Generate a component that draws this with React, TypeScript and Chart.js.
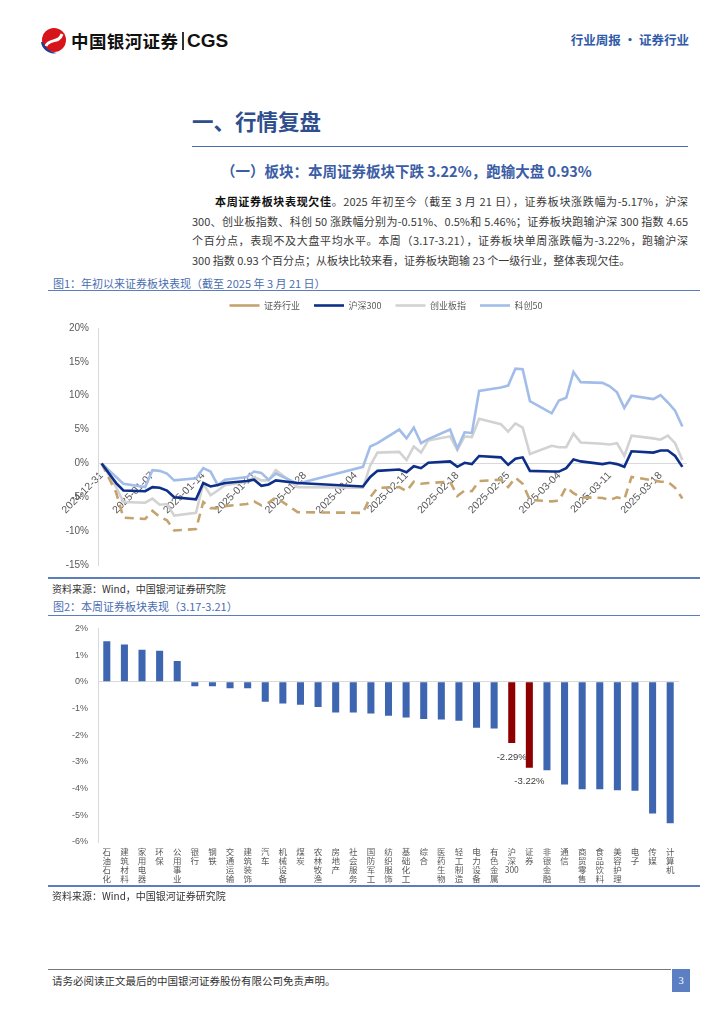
import React, { useEffect, useRef } from 'react';
import { Chart, registerables } from 'chart.js';

Chart.register(...registerables);

const CJK = '"Noto Sans CJK SC", "Liberation Sans", sans-serif';

// ---------- Figure 1: YTD performance ----------
const tradeDates = [
  '2024-12-31', '2025-01-02', '2025-01-03', '2025-01-06', '2025-01-07', '2025-01-08', '2025-01-09', '2025-01-10',
  '2025-01-13', '2025-01-14', '2025-01-15', '2025-01-16', '2025-01-17', '2025-01-20', '2025-01-21', '2025-01-22',
  '2025-01-23', '2025-01-24', '2025-01-27', '2025-02-05', '2025-02-06', '2025-02-07', '2025-02-10', '2025-02-11',
  '2025-02-12', '2025-02-13', '2025-02-14', '2025-02-17', '2025-02-18', '2025-02-19', '2025-02-20', '2025-02-21',
  '2025-02-24', '2025-02-25', '2025-02-26', '2025-02-27', '2025-02-28', '2025-03-03', '2025-03-04', '2025-03-05',
  '2025-03-06', '2025-03-07', '2025-03-10', '2025-03-11', '2025-03-12', '2025-03-13', '2025-03-14', '2025-03-17',
  '2025-03-18', '2025-03-19', '2025-03-20', '2025-03-21',
];

const securities = [
  0, -4.3, -8.0, -8.2, -7.0, -7.9, -8.4, -9.9, -9.7, -5.7, -6.6, -6.6, -6.3, -6.0, -5.6, -6.2, -5.8, -5.0, -7.2,
  -7.3, -5.0, -3.6, -3.5, -4.1, -2.7, -3.0, -2.9, -2.7, -4.8, -4.0, -4.1, -2.6, -2.4, -3.5, -2.1, -3.0, -5.4,
  -5.6, -5.5, -3.5, -4.4, -5.0, -5.1, -5.4, -5.0, -5.3, -2.0, -2.5, -2.7, -2.7, -3.6, -5.17,
];
const hs300 = [
  0, -2.9, -4.0, -4.1, -3.5, -3.6, -4.0, -5.0, -5.3, -2.9, -3.4, -3.2, -2.9, -2.6, -2.4, -3.3, -3.1, -2.5, -2.9,
  -3.4, -2.0, -1.1, -0.9, -1.3, -0.4, -0.7, 0.1, 0.3, -0.5, 0.1, -0.1, 1.1, 0.9, -0.2, 0.7, 0.9, -1.1,
  -1.2, -1.2, -0.7, 0.6, 0.3, -0.1, 0.1, -0.1, -0.5, 1.8, 1.6, 1.9, 1.9, 1.1, -0.51,
];
const chinext = [
  0, -3.5, -5.7, -5.8, -5.2, -6.1, -6.0, -7.7, -7.3, -3.0, -4.7, -4.0, -3.2, -2.7, -2.0, -2.5, -2.5, -1.0, -3.5,
  -3.6, -0.3, 1.6, 1.7, 0.5, 2.5, 1.6, 3.4, 4.0, 2.0, 4.0, 3.9, 6.6, 5.8, 4.7, 5.9, 5.3, 1.4,
  2.6, 2.4, 2.4, 4.4, 3.1, 2.9, 2.8, 3.0, 1.1, 4.1, 3.7, 3.5, 4.1, 3.0, 0.5,
];
const star50 = [
  0, -2.0, -3.0, -3.5, -1.0, -1.1, -1.5, -2.5, -2.2, -0.7, -1.2, -3.2, -2.4, -2.0, -1.2, -1.4, -2.4, -1.5, -3.0,
  -0.5, 2.5, 3.0, 5.0, 3.7, 5.3, 3.0, 3.6, 5.0, 2.2, 4.6, 4.5, 10.7, 11.2, 11.5, 14.0, 13.9, 9.2,
  7.4, 9.3, 9.7, 13.5, 12.0, 11.9, 11.4, 10.5, 8.2, 10.0, 9.5, 10.1, 9.0, 7.8, 5.46,
];

const seriesNames = ['证券行业', '沪深300', '创业板指', '科创50'];
const lineTickLabels = [
  '2024-12-31', '2025-01-07', '2025-01-14', '2025-01-21', '2025-01-28', '2025-02-04',
  '2025-02-11', '2025-02-18', '2025-02-25', '2025-03-04', '2025-03-11', '2025-03-18',
];
const lineYTicks = [-15, -10, -5, 0, 5, 10, 15, 20];

// ---------- Figure 2: weekly sector performance ----------
const industries = [
  '石油石化', '建筑材料', '家用电器', '环保', '公用事业', '银行', '钢铁', '交通运输', '建筑装饰', '汽车', '机械设备',
  '煤炭', '农林牧渔', '房地产', '社会服务', '国防军工', '纺织服饰', '基础化工', '综合', '医药生物', '轻工制造', '电力设备',
  '有色金属', '沪深300', '证券', '非银金融', '通信', '商贸零售', '食品饮料', '美容护理', '电子', '传媒', '计算机',
];
const weeklyChange = [
  1.52, 1.40, 1.20, 1.16, 0.78, -0.17, -0.17, -0.24, -0.24, -0.75, -0.81,
  -0.86, -0.94, -1.15, -1.15, -1.19, -1.27, -1.34, -1.39, -1.41, -1.46, -1.72,
  -1.75, -2.29, -3.22, -3.31, -3.85, -4.02, -4.02, -4.06, -4.08, -4.93, -5.30,
];
const highlighted = ['沪深300', '证券'];
const barYTicks = [-6, -5, -4, -3, -2, -1, 0, 1, 2];

// ---------- helpers ----------
const baseDate = tradeDates[0];
function dayOf(s: string) {
  const p = (d: string) => {
    const [y, m, dd] = d.split('-').map(Number);
    return Date.UTC(y, m - 1, dd);
  };
  return Math.round((p(s) - p(baseDate)) / 86400000);
}
const tickLabelByDay: Record<number, string> = {};
lineTickLabels.forEach((l) => { tickLabelByDay[dayOf(l)] = l; });

function stackLabel(s: string): string[] {
  return s.match(/[0-9A-Za-z]+|./g) || [s];
}

const legendTweak = {
  id: 'legendTweak',
  beforeInit(chart: any) {
    const lg = chart.legend;
    if (!lg) return;
    const fit = lg.fit;
    lg.fit = function () {
      fit.call(this);
      this.height = 41;
    };
  },
  afterLayout(chart: any) {
    const lg = chart.legend;
    if (!lg) return;
    lg.left += 23;
    lg.right += 23;
  },
};

const barValueLabels = {
  id: 'barValueLabels',
  afterDatasetsDraw(chart: any) {
    const meta = chart.getDatasetMeta(0);
    const ctx = chart.ctx;
    ctx.save();
    ctx.font = '9.5px "Liberation Sans", sans-serif';
    ctx.fillStyle = '#404040';
    ctx.textAlign = 'center';
    ctx.textBaseline = 'middle';
    meta.data.forEach((el: any, i: number) => {
      if (!highlighted.includes(industries[i])) return;
      const v = weeklyChange[i];
      ctx.fillText(v.toFixed(2) + '%', el.x, el.y + (v < 0 ? 14 : -14));
    });
    ctx.restore();
  },
};

function LineChart() {
  const ref = useRef<HTMLCanvasElement>(null);
  useEffect(() => {
    const colors = ['#C4A36E', '#0D2F8A', '#D2D2D2', '#A3BDE9'];
    const values = [securities, hs300, chinext, star50];
    const chart = new Chart(ref.current as HTMLCanvasElement, {
      type: 'line',
      data: {
        datasets: values.map((arr, k) => ({
          label: seriesNames[k],
          data: tradeDates.map((d, i) => ({ x: dayOf(d), y: arr[i] })),
          borderColor: colors[k],
          backgroundColor: colors[k],
          borderWidth: 2.6,
          borderDash: k === 0 ? [9, 6] : [],
          pointRadius: 0,
          tension: 0,
          fill: false,
          order: [2, 0, 3, 1][k],
        })),
      },
      options: {
        animation: false,
        responsive: false,
        maintainAspectRatio: false,
        layout: { padding: { top: 0, right: 14, bottom: 4, left: 0 } },
        plugins: {
          legend: {
            position: 'top',
            labels: {
              usePointStyle: true,
              pointStyle: 'line',
              pointStyleWidth: 30,
              padding: 14,
              color: '#595959',
              font: { size: 9, family: CJK },
              sort: (a: any, b: any) => a.datasetIndex - b.datasetIndex,
            },
          },
          tooltip: { enabled: false },
        },
        scales: {
          x: {
            type: 'linear',
            min: -0.5,
            max: dayOf(tradeDates[tradeDates.length - 1]) + 0.5,
            position: { y: 0 } as any,
            grid: { display: false, drawTicks: false },
            border: { display: true, color: '#D9D9D9', width: 1 },
            afterBuildTicks: (scale: any) => {
              scale.ticks = lineTickLabels.map((l) => ({ value: dayOf(l) }));
            },
            afterFit: (scale: any) => { scale.height = 0; },
            ticks: {
              autoSkip: false,
              maxRotation: 45,
              minRotation: 45,
              padding: 6,
              color: '#595959',
              font: { size: 10.5, family: '"Liberation Sans", sans-serif' },
              callback: (v: any) => tickLabelByDay[Number(v)] ?? '',
            },
          },
          y: {
            min: lineYTicks[0],
            max: lineYTicks[lineYTicks.length - 1],
            afterBuildTicks: (scale: any) => {
              scale.ticks = lineYTicks.map((v) => ({ value: v }));
            },
            afterFit: (scale: any) => { scale.width = 58; },
            grid: { display: false, drawTicks: false },
            border: { display: true, color: '#D9D9D9', width: 1 },
            ticks: {
              padding: 9,
              color: '#595959',
              font: { size: 10, family: '"Liberation Sans", sans-serif' },
              callback: (v: any) => v + '%',
            },
          },
        },
      },
      plugins: [legendTweak],
    } as any);
    return () => chart.destroy();
  }, []);
  return (
    <canvas
      ref={ref}
      width={660}
      height={293}
      style={{ position: 'absolute', left: 40, top: 287, width: 660, height: 293 }}
    />
  );
}

function BarChart() {
  const ref = useRef<HTMLCanvasElement>(null);
  useEffect(() => {
    const chart = new Chart(ref.current as HTMLCanvasElement, {
      type: 'bar',
      data: {
        labels: industries.map(stackLabel),
        datasets: [
          {
            label: '本周涨跌幅',
            data: weeklyChange,
            backgroundColor: industries.map((n) => (highlighted.includes(n) ? '#8E0000' : '#3D65B0')),
            borderWidth: 0,
            barPercentage: 0.4,
            categoryPercentage: 1,
          },
        ],
      },
      options: {
        animation: false,
        responsive: false,
        maintainAspectRatio: false,
        layout: { padding: { top: 0, right: 21, bottom: 0, left: 0 } },
        plugins: { legend: { display: false }, tooltip: { enabled: false } },
        scales: {
          x: {
            grid: { display: false, drawTicks: false },
            border: { display: false },
            afterFit: (scale: any) => { scale.height = 44; },
            ticks: {
              autoSkip: false,
              maxRotation: 0,
              minRotation: 0,
              padding: 5,
              color: '#595959',
              font: { size: 8.5, family: CJK, lineHeight: 1.06 },
            },
          },
          y: {
            min: barYTicks[0],
            max: barYTicks[barYTicks.length - 1],
            afterBuildTicks: (scale: any) => {
              scale.ticks = barYTicks.map((v) => ({ value: v }));
            },
            afterFit: (scale: any) => { scale.width = 58; },
            grid: {
              drawTicks: false,
              color: (c: any) => (c.tick && c.tick.value === 0 ? '#D9D9D9' : 'rgba(0,0,0,0)'),
            },
            border: { display: true, color: '#D9D9D9', width: 1 },
            ticks: {
              padding: 10,
              color: '#595959',
              font: { size: 9, family: '"Liberation Sans", sans-serif' },
              callback: (v: any) => v + '%',
            },
          },
        },
      },
      plugins: [barValueLabels],
    } as any);
    return () => chart.destroy();
  }, []);
  return (
    <canvas
      ref={ref}
      width={660}
      height={273}
      style={{ position: 'absolute', left: 40, top: 613, width: 660, height: 273 }}
    />
  );
}

const abs = (s: React.CSSProperties): React.CSSProperties => ({ position: 'absolute', ...s });

const paraLines: { text: React.ReactNode; last?: boolean; indent?: boolean }[] = [
  {
    text: (
      <>
        <b style={{ color: '#111' }}>本周证券板块表现欠佳</b>。2025 年初至今（截至 3 月 21 日），证券板块涨跌幅为-5.17%，沪深
      </>
    ),
    indent: true,
  },
  { text: '300、创业板指数、科创 50 涨跌幅分别为-0.51%、0.5%和 5.46%；证券板块跑输沪深 300 指数 4.65' },
  { text: '个百分点，表现不及大盘平均水平。本周（3.17-3.21），证券板块单周涨跌幅为-3.22%，跑输沪深' },
  { text: '300 指数 0.93 个百分点；从板块比较来看，证券板块跑输 23 个一级行业，整体表现欠佳。', last: true },
];

export default function App() {
  return (
    <div style={abs({ left: 0, top: 0, width: 724, height: 1024, background: '#fff', fontFamily: CJK, overflow: 'hidden' })}>
      {/* header */}
      <svg width="28" height="28" viewBox="0 0 28 28" style={abs({ left: 40, top: 27 })}>
        <circle cx="14" cy="13" r="12" fill="#D7141A" />
        <path d="M6 19 C 9 11, 19 17, 22 7" stroke="#fff" strokeWidth="3" fill="none" />
        <path d="M1 15 C 2 23, 10 28, 17 26 C 10 25, 5 21, 3 15 Z" fill="#1F3F94" />
      </svg>
      <div style={abs({ left: 71, top: 29, fontSize: 17.5, lineHeight: '24px', fontWeight: 700, color: '#111', letterSpacing: 0.4 })}>
        中国银河证券
      </div>
      <div style={abs({ left: 182, top: 32, width: 1.5, height: 18, background: '#333' })} />
      <div style={abs({ left: 187, top: 28, fontSize: 19, lineHeight: '26px', fontWeight: 700, color: '#111', fontFamily: '"Liberation Sans", sans-serif' })}>
        CGS
      </div>
      <div style={abs({ left: 560, width: 129, top: 31, fontSize: 12.5, lineHeight: '18px', fontWeight: 700, color: '#2F5BA8', textAlign: 'right', whiteSpace: 'nowrap' })}>
        行业周报 · 证券行业
      </div>

      {/* section title */}
      <div style={abs({ left: 192, top: 106, fontSize: 21.5, lineHeight: '30px', fontWeight: 700, color: '#2E4E8E' })}>
        一、行情复盘
      </div>
      <div style={abs({ left: 192, top: 145.5, width: 496, height: 1.6, background: '#4A6DB0' })} />
      <div style={abs({ left: 221, top: 161, fontSize: 14.5, lineHeight: '20px', fontWeight: 700, color: '#3B5DA5', whiteSpace: 'nowrap' })}>
        （一）板块：本周证券板块下跌 3.22%，跑输大盘 0.93%
      </div>

      {/* paragraph */}
      {paraLines.map((ln, i) => (
        <div
          key={i}
          style={abs({
            left: ln.indent ? 215 : 192,
            width: ln.indent ? 473 : 496,
            top: 192 + i * 19.7,
            fontSize: 11,
            lineHeight: '19.7px',
            color: '#3a3a3a',
            whiteSpace: 'nowrap',
            textAlign: ln.last ? 'left' : 'justify',
            textAlignLast: ln.last ? 'left' : 'justify',
          } as React.CSSProperties)}
        >
          {ln.text}
        </div>
      ))}

      {/* figure 1 */}
      <div style={abs({ left: 53, top: 275, fontSize: 11, lineHeight: '16px', color: '#4A6DB0', whiteSpace: 'nowrap' })}>
        图1：年初以来证券板块表现（截至 2025 年 3 月 21 日）
      </div>
      <div style={abs({ left: 48, top: 289.5, width: 652, height: 1.6, background: '#5B7DBE' })} />
      <LineChart />
      <div style={abs({ left: 48, top: 577, width: 652, height: 1.6, background: '#5B7DBE' })} />
      <div style={abs({ left: 52, top: 582, fontSize: 10, lineHeight: '14px', color: '#333', whiteSpace: 'nowrap' })}>
        资料来源：Wind，中国银河证券研究院
      </div>

      {/* figure 2 */}
      <div style={abs({ left: 53, top: 598, fontSize: 11, lineHeight: '16px', color: '#4A6DB0', whiteSpace: 'nowrap' })}>
        图2：本周证券板块表现（3.17-3.21）
      </div>
      <div style={abs({ left: 48, top: 614.5, width: 652, height: 1.6, background: '#5B7DBE' })} />
      <BarChart />
      <div style={abs({ left: 48, top: 885, width: 652, height: 1.6, background: '#5B7DBE' })} />
      <div style={abs({ left: 52, top: 889, fontSize: 10, lineHeight: '14px', color: '#333', whiteSpace: 'nowrap' })}>
        资料来源：Wind，中国银河证券研究院
      </div>

      {/* footer */}
      <div style={abs({ left: 48, top: 968.5, width: 623, height: 1, background: '#777' })} />
      <div style={abs({ left: 52, top: 974, fontSize: 10.5, lineHeight: '14px', color: '#333', whiteSpace: 'nowrap' })}>
        请务必阅读正文最后的中国银河证券股份有限公司免责声明。
      </div>
      <div style={abs({ left: 672, top: 969, width: 18, height: 23, background: '#5B7FC2', color: '#fff', fontSize: 10.5, lineHeight: '23px', textAlign: 'center', fontFamily: '"Liberation Serif", serif' })}>
        3
      </div>
    </div>
  );
}
